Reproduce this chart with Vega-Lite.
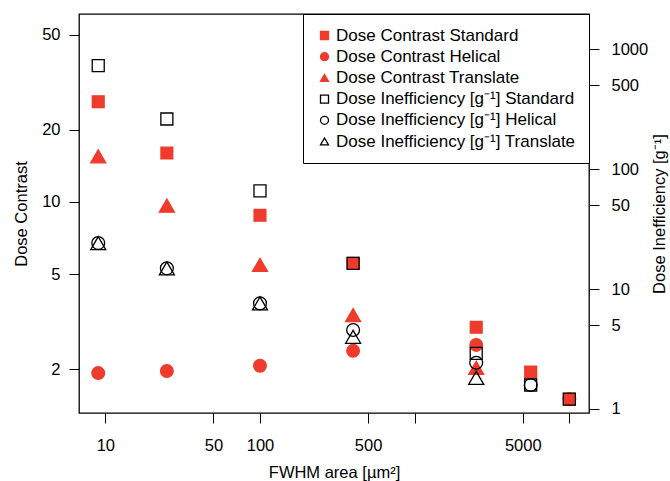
{
  "$schema": "https://vega.github.io/schema/vega-lite/v6.json",
  "width": 510,
  "height": 399,
  "autosize": {"type": "none"},
  "padding": {"left": 79, "top": 14, "right": 81, "bottom": 68},
  "background": "white",
  "config": {
    "font": "Liberation Sans",
    "view": {"stroke": "black", "strokeWidth": 1.3},
    "axis": {
      "domain": false,
      "grid": false,
      "ticks": true,
      "tickSize": 10,
      "tickColor": "black",
      "tickWidth": 1,
      "labelFont": "Liberation Sans",
      "labelFontSize": 16.5,
      "labelColor": "black",
      "labelFontWeight": "normal",
      "titleFont": "Liberation Sans",
      "titleFontSize": 16.5,
      "titleFontWeight": "normal",
      "titleColor": "black",
      "labelFlush": false,
      "labelOverlap": false,
      "labelBound": false
    },
    "legend": {
      "orient": "top-right",
      "offset": 0,
      "strokeColor": "black",
      "fillColor": "white",
      "padding": 13,
      "labelFont": "Liberation Sans",
      "labelFontSize": 17,
      "labelColor": "black",
      "labelOffset": 3,
      "labelLimit": 400,
      "rowPadding": 3.2,
      "symbolSize": 64,
      "symbolStrokeWidth": 1.3,
      "symbolOpacity": 1
    }
  },
  "data": {
    "values": [
      {"area": 9, "series": "Dose Contrast Standard", "measure": "DC", "value": 26.2},
      {"area": 25, "series": "Dose Contrast Standard", "measure": "DC", "value": 16.0},
      {"area": 100, "series": "Dose Contrast Standard", "measure": "DC", "value": 8.8},
      {"area": 400, "series": "Dose Contrast Standard", "measure": "DC", "value": 5.55},
      {"area": 2500, "series": "Dose Contrast Standard", "measure": "DC", "value": 3.0},
      {"area": 5625, "series": "Dose Contrast Standard", "measure": "DC", "value": 1.95},
      {"area": 10000, "series": "Dose Contrast Standard", "measure": "DC", "value": 1.5},
      {"area": 9, "series": "Dose Contrast Helical", "measure": "DC", "value": 1.93},
      {"area": 25, "series": "Dose Contrast Helical", "measure": "DC", "value": 1.97},
      {"area": 100, "series": "Dose Contrast Helical", "measure": "DC", "value": 2.07},
      {"area": 400, "series": "Dose Contrast Helical", "measure": "DC", "value": 2.39},
      {"area": 2500, "series": "Dose Contrast Helical", "measure": "DC", "value": 2.53},
      {"area": 10000, "series": "Dose Contrast Helical", "measure": "DC", "value": 1.5},
      {"area": 9, "series": "Dose Contrast Translate", "measure": "DC", "value": 15.5},
      {"area": 25, "series": "Dose Contrast Translate", "measure": "DC", "value": 9.65},
      {"area": 100, "series": "Dose Contrast Translate", "measure": "DC", "value": 5.46},
      {"area": 400, "series": "Dose Contrast Translate", "measure": "DC", "value": 3.37},
      {"area": 2500, "series": "Dose Contrast Translate", "measure": "DC", "value": 2.03},
      {"area": 9, "series": "Dose Inefficiency [g⁻¹] Standard", "measure": "DI", "value": 730},
      {"area": 25, "series": "Dose Inefficiency [g⁻¹] Standard", "measure": "DI", "value": 262},
      {"area": 100, "series": "Dose Inefficiency [g⁻¹] Standard", "measure": "DI", "value": 66},
      {"area": 400, "series": "Dose Inefficiency [g⁻¹] Standard", "measure": "DI", "value": 16.4},
      {"area": 2500, "series": "Dose Inefficiency [g⁻¹] Standard", "measure": "DI", "value": 2.91},
      {"area": 5625, "series": "Dose Inefficiency [g⁻¹] Standard", "measure": "DI", "value": 1.585},
      {"area": 10000, "series": "Dose Inefficiency [g⁻¹] Standard", "measure": "DI", "value": 1.21},
      {"area": 9, "series": "Dose Inefficiency [g⁻¹] Helical", "measure": "DI", "value": 24.2},
      {"area": 25, "series": "Dose Inefficiency [g⁻¹] Helical", "measure": "DI", "value": 14.9},
      {"area": 100, "series": "Dose Inefficiency [g⁻¹] Helical", "measure": "DI", "value": 7.6},
      {"area": 400, "series": "Dose Inefficiency [g⁻¹] Helical", "measure": "DI", "value": 4.56},
      {"area": 2500, "series": "Dose Inefficiency [g⁻¹] Helical", "measure": "DI", "value": 2.43},
      {"area": 5625, "series": "Dose Inefficiency [g⁻¹] Helical", "measure": "DI", "value": 1.585},
      {"area": 9, "series": "Dose Inefficiency [g⁻¹] Translate", "measure": "DI", "value": 24.2},
      {"area": 25, "series": "Dose Inefficiency [g⁻¹] Translate", "measure": "DI", "value": 14.9},
      {"area": 100, "series": "Dose Inefficiency [g⁻¹] Translate", "measure": "DI", "value": 7.6},
      {"area": 400, "series": "Dose Inefficiency [g⁻¹] Translate", "measure": "DI", "value": 4.0},
      {"area": 2500, "series": "Dose Inefficiency [g⁻¹] Translate", "measure": "DI", "value": 1.82}
    ]
  },
  "encoding": {
    "x": {
      "field": "area",
      "type": "quantitative",
      "scale": {"type": "log", "domain": [6.76, 13400], "nice": false},
      "axis": {
        "title": "FWHM area [µm²]",
        "values": [10, 50, 100, 500, 1000, 5000, 10000],
        "format": "d",
        "labelExpr": "datum.value == 1000 || datum.value == 10000 ? '' : datum.label",
        "labelPadding": 14,
        "titlePadding": 11
      }
    },
    "fill": {
      "field": "series",
      "type": "nominal",
      "title": null,
      "scale": {
        "domain": ["Dose Contrast Standard", "Dose Contrast Helical", "Dose Contrast Translate", "Dose Inefficiency [g⁻¹] Standard", "Dose Inefficiency [g⁻¹] Helical", "Dose Inefficiency [g⁻¹] Translate"],
        "range": ["#ee3b2b", "#ee3b2b", "#ee3b2b", "transparent", "transparent", "transparent"]
      }
    },
    "stroke": {
      "field": "series",
      "type": "nominal",
      "title": null,
      "scale": {
        "domain": ["Dose Contrast Standard", "Dose Contrast Helical", "Dose Contrast Translate", "Dose Inefficiency [g⁻¹] Standard", "Dose Inefficiency [g⁻¹] Helical", "Dose Inefficiency [g⁻¹] Translate"],
        "range": ["#ee3b2b", "#ee3b2b", "#ee3b2b", "black", "black", "black"]
      }
    },
    "shape": {
      "field": "series",
      "type": "nominal",
      "title": null,
      "scale": {
        "domain": ["Dose Contrast Standard", "Dose Contrast Helical", "Dose Contrast Translate", "Dose Inefficiency [g⁻¹] Standard", "Dose Inefficiency [g⁻¹] Helical", "Dose Inefficiency [g⁻¹] Translate"],
        "range": ["square", "circle", "triangle-up", "square", "circle", "triangle-up"]
      }
    },
    "size": {
      "field": "series",
      "type": "nominal",
      "legend": null,
      "scale": {
        "type": "ordinal",
        "range": [160, 140, 225, 165, 144, 225]
      }
    }
  },
  "layer": [
    {
      "transform": [{"filter": "datum.measure === 'DC'"}],
      "mark": {"type": "point", "opacity": 1, "strokeWidth": 1.3},
      "encoding": {
        "y": {
          "field": "value",
          "type": "quantitative",
          "scale": {"type": "log", "domain": [1.315, 60.9], "nice": false},
          "axis": {
            "orient": "left",
            "title": "Dose Contrast",
            "values": [2, 5, 10, 20, 50],
            "format": "d",
            "labelPadding": 9,
            "titlePadding": 12
          }
        }
      }
    },
    {
      "transform": [{"filter": "datum.measure === 'DI'"}],
      "mark": {"type": "point", "opacity": 1, "strokeWidth": 1.3},
      "encoding": {
        "y": {
          "field": "value",
          "type": "quantitative",
          "scale": {"type": "log", "domain": [0.926, 1968], "nice": false},
          "axis": {
            "orient": "right",
            "title": "Dose Inefficiency [g⁻¹]",
            "values": [1, 5, 10, 50, 100, 500, 1000],
            "format": "d",
            "labelPadding": 12,
            "titleAngle": 270,
            "titleBaseline": "top",
            "titlePadding": 4
          }
        }
      }
    }
  ],
  "resolve": {"scale": {"y": "independent"}}
}
